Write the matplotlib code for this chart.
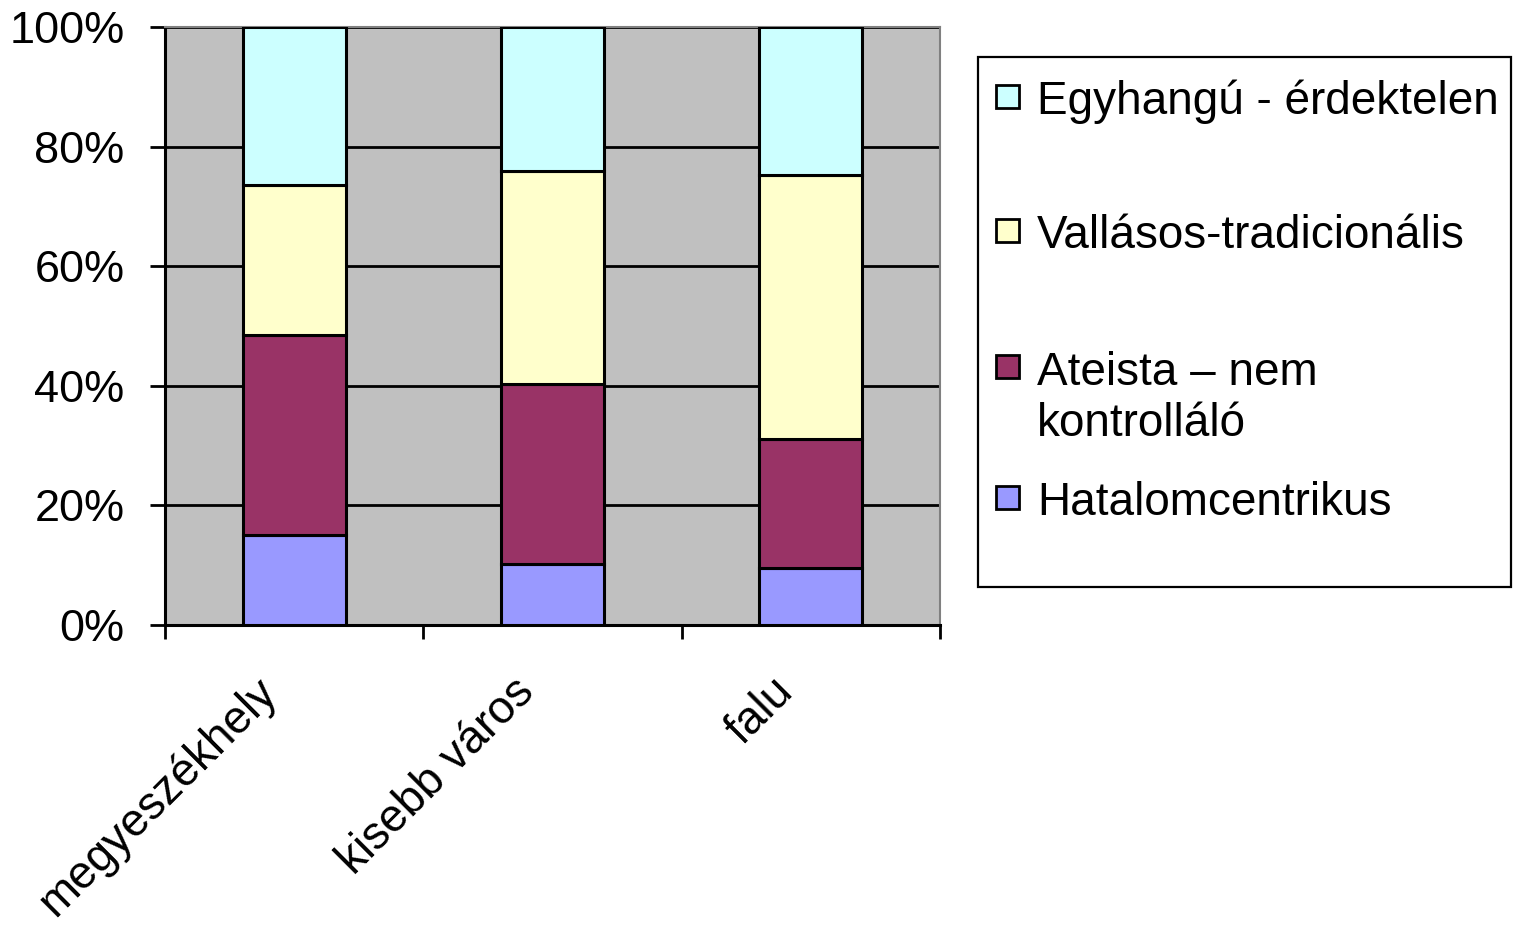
import matplotlib
matplotlib.use("Agg")
import matplotlib.pyplot as plt
from matplotlib.patches import Rectangle
from matplotlib.transforms import ScaledTranslation
import numpy as np

plt.rcParams['font.family'] = ['Liberation Sans', 'DejaVu Sans']

categories = ["megyeszékhely", "kisebb város", "falu"]
series_names = ["Hatalomcentrikus", "Ateista – nem\nkontrolláló",
                "Vallásos-tradicionális", "Egyhangú - érdektelen"]
hatalom = [15.0, 10.2, 9.5]
ateista = [33.5, 30.1, 21.6]
vallasos = [25.1, 35.6, 44.2]
egyhangu = [26.4, 24.1, 24.7]
colors = ["#9999FF", "#993366", "#FFFFCC", "#CCFFFF"]
yticks = [0, 20, 40, 60, 80, 100]
ytick_labels = ["0%", "20%", "40%", "60%", "80%", "100%"]

W, H = 1513, 925
fig = plt.figure(figsize=(W / 100, H / 100), dpi=100)

def fx(x):
    return x / W

def fy(y):
    return 1 - y / H

ax = fig.add_axes([fx(165), fy(625), fx(940) - fx(165), fy(27) - fy(625)])
ax.set_facecolor("#C0C0C0")

x = np.arange(len(categories)) + 0.5
data = [hatalom, ateista, vallasos, egyhangu]
bottom = np.zeros(len(categories))
for vals, c in zip(data, colors):
    vals = np.array(vals)
    ax.bar(x, vals, width=0.4, bottom=bottom, color=c, edgecolor="black",
           linewidth=2.2, zorder=3)
    bottom += vals

ax.set_xlim(0, 3)
ax.set_ylim(0, 100)
ax.set_yticks(yticks)
ax.set_yticklabels(ytick_labels, fontsize=32.5)
ax.yaxis.grid(True, color="black", linewidth=2.0, zorder=1)
ax.set_axisbelow(True)

ax.set_xticks([0, 1, 2, 3])
ax.set_xticklabels([])
ax.tick_params(axis="x", which="major", direction="out", length=10, width=2)
ax.tick_params(axis="y", direction="out", length=11, width=2, pad=18)

# category labels, rotated 45 degrees
lab_tr = ax.get_xaxis_transform() + ScaledTranslation(-40 / 100, -45 / 100, fig.dpi_scale_trans)
for xi, lab in zip(x, categories):
    ax.text(xi, 0, lab, transform=lab_tr, fontsize=33, rotation=45,
            ha="right", va="top", rotation_mode="anchor", clip_on=False)

for s in ["left", "bottom"]:
    ax.spines[s].set_color("black")
    ax.spines[s].set_linewidth(2.2)
for s in ["top", "right"]:
    ax.spines[s].set_color("#808080")
    ax.spines[s].set_linewidth(1.5)

# legend box
fig.patches.append(Rectangle((fx(978), fy(587)), fx(1511) - fx(978), fy(57) - fy(587),
                             transform=fig.transFigure, facecolor="white",
                             edgecolor="black", linewidth=1.6))
# (series index, first-line baseline, last-line baseline)
legend_rows = [(3, 114, 114), (2, 248, 248), (1, 384, 436), (0, 515, 515)]
for idx, base1, base_last in legend_rows:
    cy = base1 - 17
    fig.patches.append(Rectangle((fx(996), fy(cy + 11)), fx(23), fy(0) - fy(23),
                                 transform=fig.transFigure, facecolor=colors[idx],
                                 edgecolor="black", linewidth=2.0))
    fig.text(fx(1037), fy(base_last), series_names[idx], fontsize=33, va="baseline",
             ha="left", linespacing=1.2)

fig.savefig("out.png", dpi=100)
